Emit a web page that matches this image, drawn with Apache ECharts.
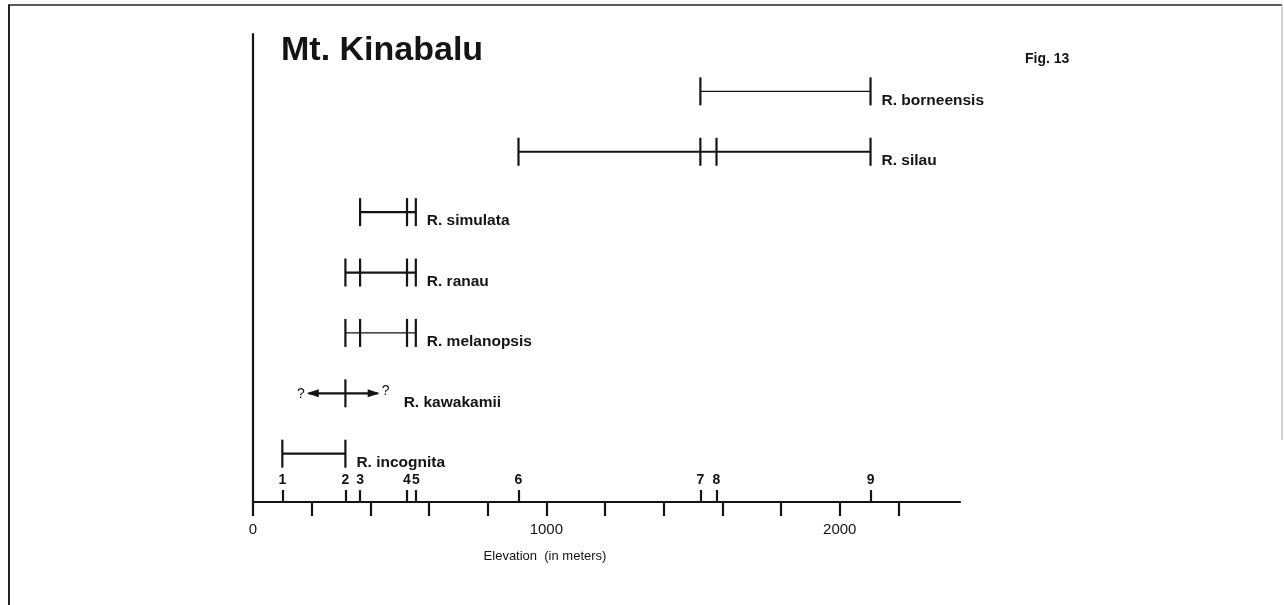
<!DOCTYPE html>
<html>
<head>
<meta charset="utf-8">
<script src="https://cdn.jsdelivr.net/npm/echarts@6/dist/echarts.min.js"></script>
<style>
  html, body { margin: 0; padding: 0; background: #fff; }
  #chart { width: 1284px; height: 605px; }
</style>
</head>
<body>
<div id="chart"></div>
<script>
// collecting sites (elevation in m), numbered 1..9 above the axis
const sites = [100, 315, 365, 525, 555, 905, 1525, 1580, 2105];
const siteLabels = ['1', '2', '3', '4', '5', '6', '7', '8', '9'];
// rows from bottom (1) to top (7)
const species = ['R. incognita', 'R. kawakamii', 'R. melanopsis', 'R. ranau', 'R. simulata', 'R. silau', 'R. borneensis'];
// which sites each species was found at
const speciesSites = [[1, 2], [2], [2, 3, 4, 5], [2, 3, 4, 5], [3, 4, 5], [6, 7, 8, 9], [7, 9]];
// uncertain range of R. kawakamii (arrows with ?)
const kawakamiiRange = [190, 425];
const majorTicks = [0, 200, 400, 600, 800, 1000, 1200, 1400, 1600, 1800, 2000, 2200];
const axisLabels = [0, 1000, 2000];

const ink = '#141414';
const font = '"Liberation Sans", Arial, sans-serif';
const thinRows = ['R. melanopsis', 'R. borneensis'];

const chart = echarts.init(document.getElementById('chart'));

const rows = species.map((name, i) => {
  const pts = speciesSites[i].map(s => sites[s - 1]);
  let lo = Math.min(...pts), hi = Math.max(...pts);
  if (name === 'R. kawakamii') { lo = kawakamiiRange[0]; hi = kawakamiiRange[1]; }
  return [lo, hi, i + 1];
});

function renderRow(params, api) {
  const i = params.dataIndex;
  const name = species[i];
  const y = api.value(2);
  const p0 = api.coord([api.value(0), y]);
  const p1 = api.coord([api.value(1), y]);
  const kids = [];
  kids.push({
    type: 'line',
    shape: { x1: p0[0], y1: p0[1], x2: p1[0], y2: p1[1] },
    style: { stroke: ink, lineWidth: thinRows.includes(name) ? 1.2 : 2.2 }
  });
  let lastX = p1[0];
  speciesSites[i].forEach(s => {
    const c = api.coord([sites[s - 1], y]);
    kids.push({
      type: 'line',
      shape: { x1: c[0], y1: c[1] - 14, x2: c[0], y2: c[1] + 14 },
      style: { stroke: ink, lineWidth: 2.2 }
    });
    lastX = Math.max(lastX, c[0]);
  });
  let labelX = lastX + 11;
  if (name === 'R. kawakamii') {
    kids.push({
      type: 'polygon',
      shape: { points: [[p0[0] - 2, p0[1]], [p0[0] + 10, p0[1] - 4], [p0[0] + 10, p0[1] + 4]] },
      style: { fill: ink }
    });
    kids.push({
      type: 'polygon',
      shape: { points: [[p1[0] + 2, p1[1]], [p1[0] - 10, p1[1] - 4], [p1[0] - 10, p1[1] + 4]] },
      style: { fill: ink }
    });
    kids.push({
      type: 'text',
      style: { text: '?', x: p0[0] - 4, y: p0[1] + 1, align: 'right', verticalAlign: 'middle', fill: ink, font: '14px ' + font }
    });
    kids.push({
      type: 'text',
      style: { text: '?', x: p1[0] + 4, y: p1[1] - 2, align: 'left', verticalAlign: 'middle', fill: ink, font: '14px ' + font }
    });
    labelX = p1[0] + 26;
  }
  kids.push({
    type: 'text',
    style: {
      text: name, x: labelX, y: p1[1] + 9, align: 'left', verticalAlign: 'middle',
      fill: ink, font: 'bold 15.5px ' + font
    }
  });
  return { type: 'group', children: kids };
}

const option = {
  backgroundColor: '#fff',
  animation: false,
  title: [
    {
      text: 'Mt. Kinabalu', left: 276, top: 29,
      textStyle: { fontFamily: font, fontSize: 34, fontWeight: 'bold', color: ink }
    },
    {
      text: 'Fig. 13', left: 1020, top: 47,
      textStyle: { fontFamily: font, fontSize: 14, fontWeight: 'bold', color: ink }
    }
  ],
  grid: { left: 253, right: 324, top: 34, bottom: 103 },
  xAxis: [
    {
      type: 'value', min: 0, max: 2410,
      axisLine: { show: true, lineStyle: { color: ink, width: 2.2 } },
      axisTick: { show: true, length: 14, customValues: majorTicks, lineStyle: { color: ink, width: 2.2 } },
      axisLabel: {
        customValues: axisLabels, margin: 20, fontSize: 15, fontFamily: font, color: ink,
        formatter: v => String(v)
      },
      splitLine: { show: false }
    },
    {
      type: 'value', min: 0, max: 2410, position: 'bottom',
      axisLine: { show: false },
      axisTick: { show: true, inside: true, length: 12, customValues: sites, lineStyle: { color: ink, width: 2.2 } },
      axisLabel: {
        inside: true, customValues: sites, margin: 15, fontSize: 14, fontWeight: 'bold',
        fontFamily: font, color: ink, hideOverlap: false,
        formatter: v => siteLabels[sites.indexOf(v)]
      },
      splitLine: { show: false }
    }
  ],
  yAxis: {
    type: 'value', min: 0.2, max: 7.95,
    axisLine: { show: true, lineStyle: { color: ink, width: 2.2 } },
    axisTick: { show: false },
    axisLabel: { show: false },
    splitLine: { show: false }
  },
  graphic: [
    { type: 'line', shape: { x1: 8, y1: 5, x2: 1282, y2: 5 }, style: { stroke: '#222', lineWidth: 1.5 } },
    { type: 'line', shape: { x1: 9, y1: 5, x2: 9, y2: 605 }, style: { stroke: '#222', lineWidth: 2 } },
    { type: 'line', shape: { x1: 1282, y1: 5, x2: 1282, y2: 440 }, style: { stroke: '#aaa', lineWidth: 1 } },
    {
      type: 'text', x: 545, y: 556,
      style: { text: 'Elevation  (in meters)', font: '13px ' + font, fill: ink, align: 'center', verticalAlign: 'middle' }
    }
  ],
  series: [
    {
      type: 'custom',
      xAxisIndex: 0,
      yAxisIndex: 0,
      renderItem: renderRow,
      encode: { x: [0, 1], y: 2 },
      data: rows
    }
  ]
};

chart.setOption(option);
</script>
</body>
</html>
